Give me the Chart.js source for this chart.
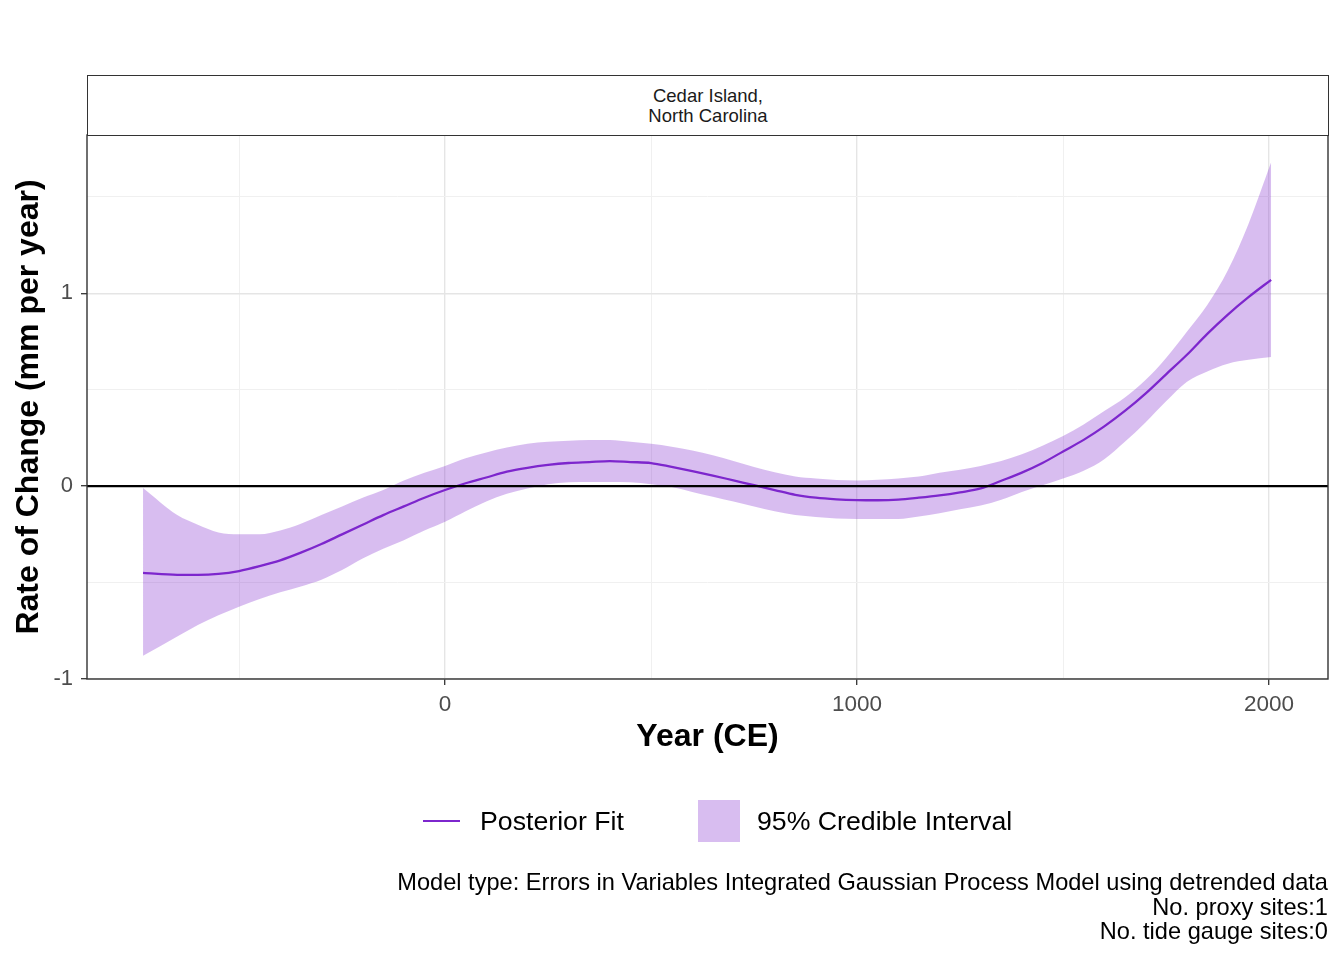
<!DOCTYPE html>
<html>
<head>
<meta charset="utf-8">
<script src="https://cdn.jsdelivr.net/npm/chart.js@4.4.1/dist/chart.umd.min.js"></script>
<style>
html,body{margin:0;padding:0;background:#fff;}
body{width:1344px;height:960px;position:relative;overflow:hidden;font-family:"Liberation Sans",Arial,Helvetica,sans-serif;}
#c{position:absolute;left:0;top:0;}
.strip{position:absolute;left:87px;top:75px;width:1242px;height:61px;box-sizing:border-box;border:1.4px solid #333;background:#fff;text-align:center;font-size:18.5px;line-height:20px;color:#1a1a1a;padding-top:10px;}
.leg{position:absolute;font-size:26.7px;color:#000;white-space:nowrap;}
.cap{position:absolute;right:16px;top:870px;text-align:right;font-size:23.6px;line-height:24.5px;color:#000;white-space:nowrap;}
</style>
</head>
<body>
<canvas id="c" width="1344" height="960"></canvas>
<div class="strip">Cedar Island,<br>North Carolina</div>
<div style="position:absolute;left:423px;top:820px;width:37px;height:2.4px;background:#7D26CD;"></div>
<div class="leg" style="left:480px;top:806px;">Posterior Fit</div>
<div style="position:absolute;left:698px;top:800px;width:42px;height:42px;background:rgba(125,38,205,0.3);"></div>
<div class="leg" style="left:757px;top:806px;">95% Credible Interval</div>
<div class="cap">Model type: Errors in Variables Integrated Gaussian Process Model using detrended data<br>No. proxy sites:1<br>No. tide gauge sites:0</div>
<script>
const years = [-733,-650,-600,-550,-500,-450,-400,-350,-300,-250,-200,-150,-100,-50,
  0,50,100,150,200,250,300,350,400,450,500,550,600,650,700,750,800,850,900,950,1000,
  1050,1100,1150,1200,1250,1300,1350,1400,1450,1500,1550,1600,1650,1700,1750,1800,1850,1900,1950,2005];
const fitMean = [-0.45,-0.46,-0.46,-0.455,-0.44,-0.415,-0.385,-0.345,-0.30,-0.25,-0.20,-0.15,-0.105,-0.06,
  -0.02,0.015,0.045,0.075,0.095,0.11,0.12,0.125,0.13,0.125,0.12,0.10,0.078,0.055,0.03,0.005,-0.02,-0.045,-0.06,-0.068,-0.072,
  -0.073,-0.07,-0.06,-0.048,-0.032,-0.012,0.028,0.07,0.12,0.18,0.24,0.31,0.39,0.48,0.58,0.68,0.79,0.89,0.98,1.07];
const ciLower = [-0.88,-0.78,-0.72,-0.67,-0.625,-0.585,-0.55,-0.52,-0.485,-0.435,-0.375,-0.325,-0.28,-0.23,
  -0.185,-0.13,-0.08,-0.04,-0.012,0.01,0.02,0.022,0.022,0.02,0.01,-0.005,-0.03,-0.055,-0.08,-0.105,-0.13,-0.15,-0.16,-0.168,-0.17,
  -0.17,-0.17,-0.157,-0.14,-0.12,-0.10,-0.07,-0.03,0.005,0.04,0.08,0.14,0.23,0.33,0.44,0.54,0.595,0.635,0.655,0.67];
const ciUpper = [-0.01,-0.15,-0.20,-0.24,-0.25,-0.25,-0.23,-0.195,-0.15,-0.105,-0.06,-0.02,0.03,0.07,
  0.105,0.145,0.175,0.20,0.22,0.23,0.235,0.24,0.24,0.23,0.22,0.205,0.185,0.16,0.13,0.10,0.072,0.05,0.04,0.032,0.03,
  0.033,0.04,0.05,0.07,0.085,0.105,0.13,0.165,0.21,0.26,0.32,0.39,0.46,0.55,0.665,0.80,0.94,1.12,1.36,1.68];
const xTicks = [-500, 0, 500, 1000, 1500, 2000];
const xTickLabels = [0, 1000, 2000];
const yTicks = [-1, -0.5, 0, 0.5, 1, 1.5];
const yTickLabels = [-1, 0, 1];
const xRange = [-869, 2143];
const yRange = [-1.0, 1.821];

const FONT = '"Liberation Sans", Arial, Helvetica, sans-serif';
Chart.defaults.font.family = FONT;
const pts = arr => years.map((x, i) => ({x: x, y: arr[i]}));
const isMajor = (list, c) => !!(c.tick && list.includes(c.tick.value));

const decor = {
  id: 'decor',
  afterDatasetsDraw(chart) {
    const {ctx, chartArea: a, scales: {y}} = chart;
    const y0 = y.getPixelForValue(0);
    ctx.save();
    ctx.strokeStyle = '#000';
    ctx.lineWidth = 2.2;
    ctx.beginPath();
    ctx.moveTo(a.left, y0);
    ctx.lineTo(a.right, y0);
    ctx.stroke();
    ctx.strokeStyle = '#333';
    ctx.lineWidth = 1.4;
    ctx.strokeRect(a.left, a.top, a.right - a.left, a.bottom - a.top);
    ctx.restore();
  }
};

new Chart(document.getElementById('c'), {
  type: 'line',
  data: {
    datasets: [
      {label: 'Posterior Fit', data: pts(fitMean), borderColor: '#7D26CD', borderWidth: 2.3,
       pointRadius: 0, fill: false, cubicInterpolationMode: 'monotone'},
      {label: '95% Credible Interval', data: pts(ciUpper), borderWidth: 0, borderColor: 'rgba(0,0,0,0)',
       pointRadius: 0, fill: '+1', backgroundColor: 'rgba(125,38,205,0.3)', cubicInterpolationMode: 'monotone'},
      {label: 'lower', data: pts(ciLower), borderWidth: 0, borderColor: 'rgba(0,0,0,0)',
       pointRadius: 0, fill: false, cubicInterpolationMode: 'monotone'}
    ]
  },
  options: {
    responsive: false,
    animation: false,
    layout: {padding: {top: 135, right: 16, bottom: 200, left: 0}},
    plugins: {legend: {display: false}, tooltip: {enabled: false}},
    scales: {
      x: {
        type: 'linear', min: xRange[0], max: xRange[1],
        afterBuildTicks: s => { s.ticks = xTicks.map(v => ({value: v})); },
        afterFit: s => { s.height = 81; },
        border: {display: false},
        grid: {
          color: c => isMajor(xTickLabels, c) ? '#e5e5e5' : '#f0f0f0',
          lineWidth: c => isMajor(xTickLabels, c) ? 1.4 : 1,
          tickColor: c => isMajor(xTickLabels, c) ? '#333' : 'rgba(0,0,0,0)',
          tickLength: 6, tickWidth: 1.3
        },
        ticks: {
          autoSkip: false, maxRotation: 0,
          color: '#4d4d4d', font: {size: 22.5}, padding: 6,
          callback: v => xTickLabels.includes(v) ? String(v) : ''
        },
        title: {display: true, text: 'Year (CE)', color: '#000',
          font: {size: 32, weight: 'bold'}, padding: {top: 0, bottom: 4}}
      },
      y: {
        type: 'linear', min: yRange[0], max: yRange[1],
        afterBuildTicks: s => { s.ticks = yTicks.map(v => ({value: v})); },
        afterFit: s => { s.width = 87; },
        border: {display: false},
        grid: {
          color: c => isMajor(yTickLabels, c) ? '#e5e5e5' : '#f0f0f0',
          lineWidth: c => isMajor(yTickLabels, c) ? 1.4 : 1,
          tickColor: c => isMajor(yTickLabels, c) ? '#333' : 'rgba(0,0,0,0)',
          tickLength: 6, tickWidth: 1.3
        },
        ticks: {
          autoSkip: false,
          color: '#4d4d4d', font: {size: 22}, padding: 8,
          callback: v => yTickLabels.includes(v) ? String(v) : ''
        },
        title: {display: true, text: 'Rate of Change (mm per year)', color: '#000',
          font: {size: 32, weight: 'bold'}, padding: {top: 10, bottom: 0}}
      }
    }
  },
  plugins: [decor]
});
</script>
</body>
</html>
